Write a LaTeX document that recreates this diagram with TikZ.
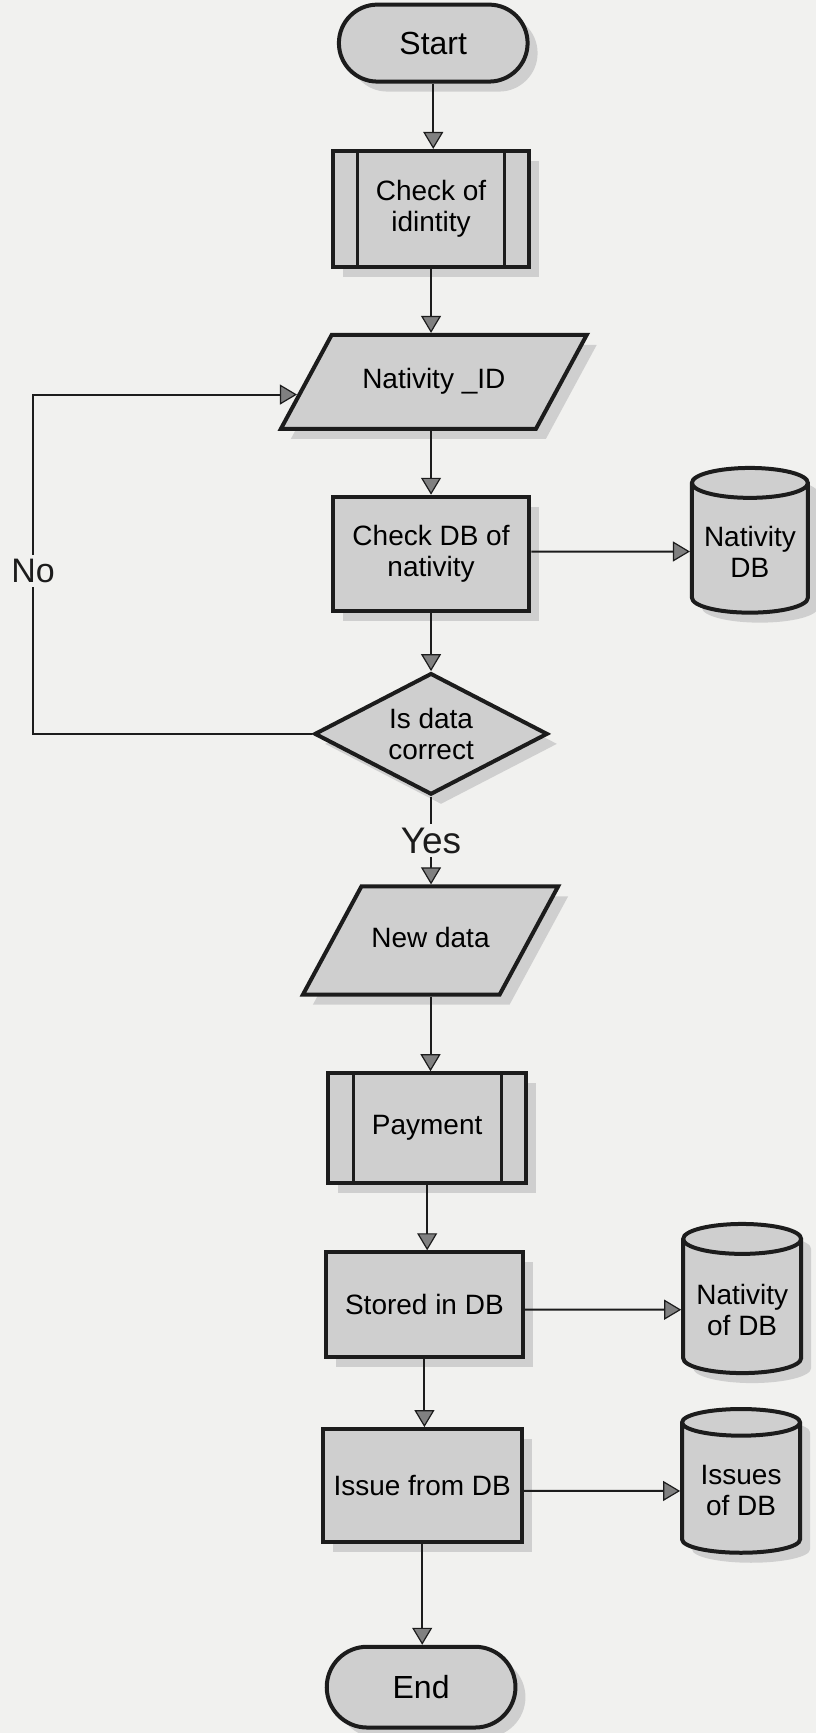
\documentclass[tikz,border=0pt]{standalone}
\usepackage{fontspec}
\setmainfont{Liberation Sans}
\usepackage{tikz}
\usetikzlibrary{arrows.meta, positioning, calc, shapes.geometric, shapes.misc, shadows}
\definecolor{paper}{HTML}{F1F1EF}
\definecolor{boxfill}{HTML}{CFCFCF}
\definecolor{edge}{HTML}{1C1C1C}

\begin{document}
\begin{tikzpicture}[
  x=0.5529pt, y=-0.5529pt,   % <<—— one unit = one pixel of the sketch
  base/.style={draw=edge, fill=boxfill, line width=2pt, align=center, inner sep=2pt,
    font=\fontsize{14}{15.5}\selectfont,
    drop shadow={shadow xshift=5pt, shadow yshift=-5pt, fill=gray!40, opacity=0.9}},
  terminal/.style={base, rounded rectangle, font=\fontsize{16}{18}\selectfont},
  process/.style={base, rectangle},
  subproc/.style={process, path picture={
      \draw[edge, line width=1.6pt] ([xshift=12.5pt]path picture bounding box.north west) -- ([xshift=12.5pt]path picture bounding box.south west);
      \draw[edge, line width=1.6pt] ([xshift=-12.5pt]path picture bounding box.north east) -- ([xshift=-12.5pt]path picture bounding box.south east);}},
  io/.style={base, trapezium, trapezium left angle=61.6, trapezium right angle=118.4, trapezium stretches body,
    text height=10pt, text depth=3pt, inner xsep=2pt},
  decision/.style={base, diamond, aspect=2, inner sep=0pt},
  store/.style={base, cylinder, shape border rotate=90, aspect=0.3},
  arrow/.style={edge, line width=1pt, -{Triangle[width=10pt, length=8.5pt, fill=gray, line width=0.6pt]}},
  lbl/.style={fill=paper, inner sep=2pt}
]
  \fill[paper] (0,0) rectangle (738,1568);
  \useasboundingbox (0,0) rectangle (738,1568);

  % Main column
  \node[terminal, minimum width=98.4pt, minimum height=38.5pt] (start) at (392,39) {Start};
  \node[subproc, minimum width=98.4pt, minimum height=58pt] (ident) at (390,189) {Check of\\idintity};
  \node[io, minimum width=153pt, inner ysep=17pt] (natid) at (392.5,345.5) {Nativity \_ID};
  \node[process, minimum width=98.4pt, minimum height=57pt] (checkdb) at (390,501) {Check DB of\\nativity};
  \node[decision, minimum width=116.7pt, minimum height=60.8pt] (correct) at (390,664) {Is data\\correct};
  \node[io, minimum width=127.7pt, inner ysep=20.6pt] (newdata) at (389.5,851) {New data};
  \node[subproc, minimum width=99pt, minimum height=54.7pt] (payment) at (386.5,1020.5) {Payment};
  \node[process, minimum width=98.4pt, minimum height=52.5pt] (stored) at (384,1180.5) {Stored in DB};
  \node[process, minimum width=99.5pt, minimum height=56.4pt] (issue) at (382,1344) {Issue from DB};
  \node[terminal, minimum width=98.4pt, minimum height=40.4pt] (end) at (381,1526.5) {End};
  % Data stores
  \node[store, minimum width=58pt, minimum height=72.4pt] (natdb) at (678.5,499) {Nativity\\DB};
  \node[store, minimum width=59pt, minimum height=74.6pt] (natofdb) at (671.5,1185) {Nativity\\of DB};
  \node[store, minimum width=59pt, minimum height=71.9pt] (issuesdb) at (670.5,1349) {Issues\\of DB};

  % Flow
  \draw[arrow] (start.south) -- (start.south |- ident.north);
  \draw[arrow] (ident.south) -- (ident.south |- natid.north);
  \draw[arrow] (checkdb.north |- natid.south) -- (checkdb.north);
  \draw[arrow] (correct.north |- checkdb.south) -- (correct.north);
  \draw[arrow] (correct.south) -- node[lbl, font=\fontsize{18.5}{20}\selectfont] {Yes} (correct.south |- newdata.north);
  \draw[arrow] (newdata.south) -- (newdata.south |- payment.north);
  \draw[arrow] (payment.south) -- (payment.south |- stored.north);
  \draw[arrow] (stored.south) -- (stored.south |- issue.north);
  \draw[arrow] (issue.south) -- (issue.south |- end.north);

  % Loop back when the data is wrong
  \coordinate (noturn) at (30,664);
  \draw[arrow] (correct.west) -- (noturn) |- node[lbl, pos=0.24, font=\fontsize{17}{19}\selectfont] {No} ($(natid.west)+(-6.4,11.5)$);

  % Writes to the stores
  \draw[arrow] (checkdb.east |- natdb) -- (natdb);
  \draw[arrow] (stored.east |- natofdb) -- (natofdb);
  \draw[arrow] (issue.east |- issuesdb) -- (issuesdb);
\end{tikzpicture}
\end{document}
